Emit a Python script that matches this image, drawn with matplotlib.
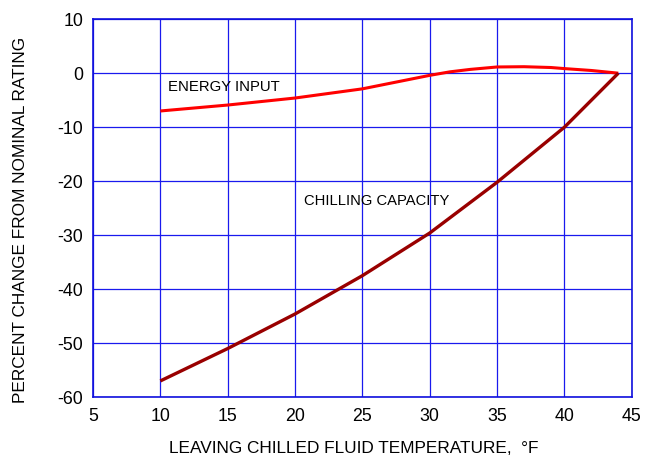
import numpy as np
import matplotlib.pyplot as plt

plt.rcParams['font.family'] = ['Liberation Sans', 'DejaVu Sans']
plt.rcParams['axes.unicode_minus'] = False

# leaving chilled fluid temperature, F
energy_x = [10, 15, 20, 25, 30, 31.5, 33, 35, 37, 39, 40, 42, 44]
energy_y = [-7.0, -5.9, -4.6, -2.9, -0.4, 0.25, 0.7, 1.15, 1.2, 1.05, 0.85, 0.5, 0.0]

capacity_x = [10, 15, 20, 25, 30, 35, 40, 44]
capacity_y = [-57.0, -51.0, -44.6, -37.5, -29.6, -20.2, -10.0, 0.0]

xticks = np.arange(5, 46, 5)
yticks = np.arange(-60, 11, 10)

fig = plt.figure(figsize=(6.48, 4.57), dpi=100)
ax = fig.add_axes([0.1435, 0.131, 0.8315, 0.827])

ax.plot(energy_x, energy_y, color='#ff0000', lw=2.2, solid_capstyle='butt', zorder=3)
ax.plot(capacity_x, capacity_y, color='#990000', lw=2.4, solid_capstyle='butt', zorder=3)

ax.set_xlim(5, 45)
ax.set_ylim(-60, 10)
ax.set_xticks(xticks)
ax.set_yticks(yticks)
ax.grid(True, color='#1a1aee', lw=0.9)
ax.set_axisbelow(True)
for s in ax.spines.values():
    s.set_color('#1010dd')
    s.set_linewidth(1.2)
ax.tick_params(length=0, labelsize=12.8, colors='black')
ax.tick_params(axis='y', pad=7)
ax.tick_params(axis='x', pad=8)

ax.text(10.6, -2.6, 'ENERGY INPUT', fontsize=10.7, va='center', ha='left')
ax.text(20.7, -23.7, 'CHILLING CAPACITY', fontsize=10.6, va='center', ha='left')

ax.set_xlabel('LEAVING CHILLED FLUID TEMPERATURE,  \u00b0F', fontsize=12.4)
ax.set_ylabel('PERCENT CHANGE FROM NOMINAL RATING', fontsize=12.4)
ax.xaxis.set_label_coords(0.484, -0.116)
ax.yaxis.set_label_coords(-0.121, 0.468)

fig.savefig('out.png', dpi=100)
